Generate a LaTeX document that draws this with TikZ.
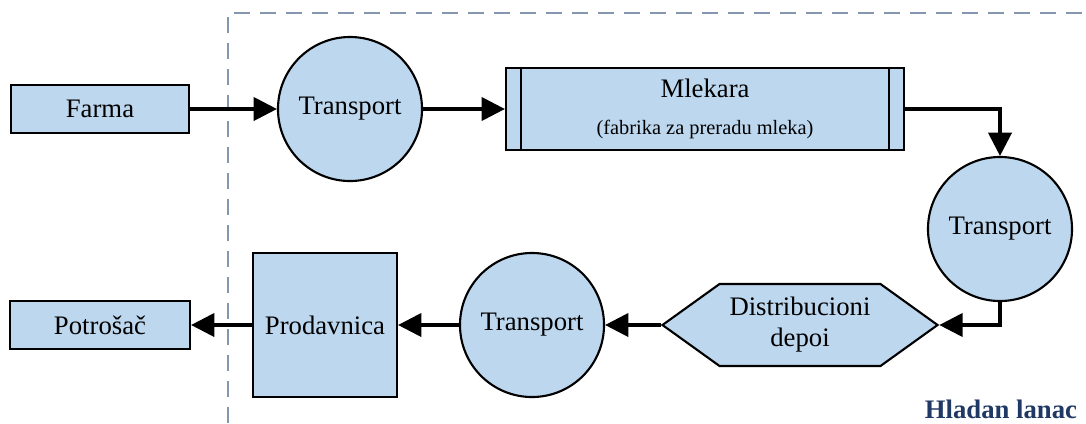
\documentclass[tikz,border=0pt]{standalone}
\usepackage{fontspec}
\setmainfont{Liberation Serif}
\usepackage{xcolor}
\usepackage{tikz}
\usetikzlibrary{arrows.meta, positioning}
\usetikzlibrary{shapes.symbols}

\definecolor{boxfill}{HTML}{BDD7EE}
\definecolor{framegray}{HTML}{8496B0}
\definecolor{chainblue}{HTML}{203864}

\begin{document}
\begin{tikzpicture}[x=0.025cm, y=-0.025cm,
        box/.style={draw, line width=1.5pt, fill=boxfill, inner sep=0pt, align=center,
            font=\fontsize{19}{22}\selectfont},
        stage/.style={box, circle, minimum size=3.6cm},
        flow/.style={line width=2.2pt, -{Triangle[length=0.58cm, width=0.58cm]}}]
        \useasboundingbox (0,0) rectangle (1086,423);

        % Cold chain frame
        \draw[framegray, line width=1.7pt, dash pattern=on 0.4cm off 0.25cm]
            (228,423) -- (228,13) -- (1086,13);

        % Top row
        \node[box, minimum width=4.45cm, minimum height=1.2cm] (farma) at (100,109) {Farma};
        \node[stage] (transport1) at (350,109) {Transport};
        \node[box, minimum width=9.95cm, minimum height=2.05cm] (mlekara) at (705,109)
            {Mlekara\\[4pt]{\fontsize{14.5}{17}\selectfont (fabrika za preradu mleka)}};
        \draw[line width=1.5pt] ([xshift=0.4cm]mlekara.north west) -- ([xshift=0.4cm]mlekara.south west);
        \draw[line width=1.5pt] ([xshift=-0.4cm]mlekara.north east) -- ([xshift=-0.4cm]mlekara.south east);
        \node[stage] (transport2) at (1000,229) {Transport};

        % Bottom row
        \node[box, signal, signal to=east and west, signal pointer angle=71.4,
            minimum width=6.875cm, minimum height=2.05cm] (depo) at (800,325) {Distribucioni\\depoi};
        \node[stage] (transport3) at (532,325) {Transport};
        \node[box, minimum size=3.6cm] (prodavnica) at (325,325) {Prodavnica};
        \node[box, minimum width=4.5cm, minimum height=1.2cm] (potrosac) at (100,325) {Potrošač};

        \node[anchor=base east, text=chainblue, font=\bfseries\fontsize{19}{22}\selectfont]
            (lanac) at (1082,418) {Hladan lanac};

        % Flow
        \draw[flow] (farma) -- (transport1);
        \draw[flow] (transport1) -- (mlekara);
        \draw[flow] (mlekara.east) -| (transport2.north);
        \draw[flow] (transport2.south) |- (depo.east);
        \draw[flow] (depo.west) -- (transport3.east);
        \draw[flow] (transport3) -- (prodavnica);
        \draw[flow] (prodavnica) -- (potrosac);
    \end{tikzpicture}
\end{document}
